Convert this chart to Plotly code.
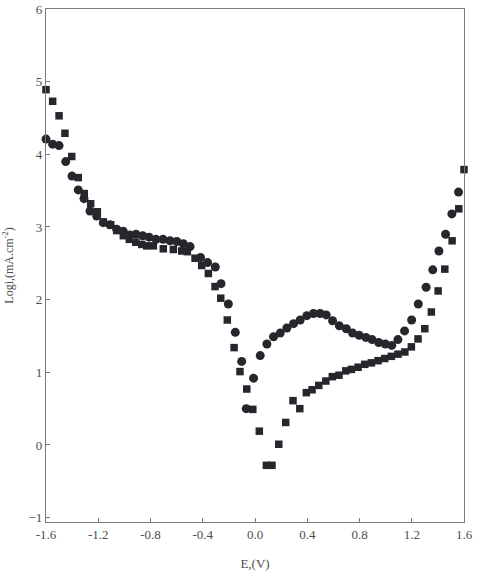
import plotly.graph_objects as go

# Squares series
sq_E = [-1.600, -1.549, -1.500, -1.455, -1.403, -1.353, -1.307, -1.258, -1.207, -1.161,
        -1.105, -1.059, -1.008, -0.962, -0.913, -0.867, -0.829, -0.778, -0.702, -0.625,
        -0.561, -0.518, -0.459, -0.408, -0.357, -0.306, -0.262, -0.212, -0.160, -0.115,
        -0.063, -0.017, 0.033, 0.087, 0.130, 0.182, 0.235, 0.291, 0.343, 0.393,
        0.437, 0.488, 0.542, 0.592, 0.643, 0.695, 0.738, 0.789, 0.840, 0.891,
        0.942, 0.993, 1.044, 1.095, 1.147, 1.197, 1.248, 1.300, 1.350, 1.402,
        1.453, 1.509, 1.560, 1.600]
sq_logi = [4.89, 4.73, 4.53, 4.29, 3.97, 3.68, 3.46, 3.32, 3.21, 3.07,
           3.03, 2.95, 2.88, 2.83, 2.79, 2.76, 2.74, 2.74, 2.70, 2.69,
           2.67, 2.66, 2.57, 2.47, 2.36, 2.18, 2.02, 1.72, 1.34, 1.01,
           0.77, 0.49, 0.19, -0.28, -0.28, 0.01, 0.31, 0.61, 0.50, 0.72,
           0.76, 0.82, 0.88, 0.94, 0.96, 1.02, 1.04, 1.07, 1.11, 1.13,
           1.16, 1.19, 1.22, 1.25, 1.28, 1.35, 1.46, 1.60, 1.83, 2.12,
           2.42, 2.81, 3.25, 3.79]

# Circles series
ci_E = [-1.600, -1.549, -1.500, -1.449, -1.401, -1.353, -1.309, -1.263, -1.212, -1.161,
        -1.110, -1.059, -1.008, -0.957, -0.911, -0.860, -0.811, -0.758, -0.704, -0.651,
        -0.599, -0.549, -0.497, -0.417, -0.363, -0.304, -0.260, -0.204, -0.151, -0.102,
        -0.067, -0.011, 0.040, 0.091, 0.142, 0.193, 0.244, 0.295, 0.346, 0.397,
        0.448, 0.498, 0.545, 0.594, 0.646, 0.699, 0.747, 0.797, 0.849, 0.896,
        0.947, 0.998, 1.047, 1.094, 1.145, 1.199, 1.250, 1.310, 1.361, 1.408,
        1.459, 1.507, 1.558]
ci_logi = [4.21, 4.14, 4.12, 3.90, 3.70, 3.51, 3.39, 3.22, 3.15, 3.06,
           3.03, 2.97, 2.94, 2.89, 2.90, 2.88, 2.86, 2.83, 2.83, 2.81,
           2.80, 2.77, 2.73, 2.58, 2.51, 2.45, 2.22, 1.94, 1.55, 1.15,
           0.50, 0.92, 1.23, 1.39, 1.49, 1.54, 1.61, 1.67, 1.72, 1.78,
           1.81, 1.81, 1.79, 1.71, 1.64, 1.60, 1.54, 1.51, 1.48, 1.45,
           1.41, 1.39, 1.37, 1.45, 1.57, 1.72, 1.94, 2.17, 2.41, 2.67,
           2.90, 3.18, 3.48]

x_ticks = [-1.6, -1.2, -0.8, -0.4, 0.0, 0.4, 0.8, 1.2, 1.6]
x_ticktext = ["-1.6", "-1.2", "-0.8", "-0.4", "0.0", "0.4", "0.8", "1.2", "1.6"]
y_ticks = [-1, 0, 1, 2, 3, 4, 5, 6]

mark_color = "#26262c"
axis_color = "#7a7a7a"
text_color = "#4d4d4d"
font_fam = "Liberation Serif"

fig = go.Figure()
fig.add_trace(go.Scatter(x=sq_E, y=sq_logi, mode="markers",
                         marker=dict(symbol="square", size=7.5, color=mark_color),
                         cliponaxis=False, showlegend=False))
fig.add_trace(go.Scatter(x=ci_E, y=ci_logi, mode="markers",
                         marker=dict(symbol="circle", size=9, color=mark_color),
                         cliponaxis=False, showlegend=False))

fig.update_layout(
    width=478, height=579,
    margin=dict(l=46, r=14, t=9, b=57),
    paper_bgcolor="white", plot_bgcolor="white",
    font=dict(family=font_fam, color=text_color, size=13),
    xaxis=dict(range=[-1.6, 1.6], tickvals=x_ticks, ticktext=x_ticktext,
               automargin=False,
               showgrid=False, zeroline=False, showline=True, linecolor=axis_color,
               linewidth=1.2, mirror=True, ticks="inside", ticklen=4, tickcolor=axis_color,
               tickfont=dict(family=font_fam, size=13, color=text_color),
               title=dict(text="E,(V)", font=dict(family=font_fam, size=13, color=text_color),
                          standoff=18)),
    yaxis=dict(range=[-1.06, 6.0], tickvals=y_ticks,
               automargin=False,
               showgrid=False, zeroline=False, showline=True, linecolor=axis_color,
               linewidth=1.2, mirror=True, ticks="inside", ticklen=4, tickcolor=axis_color,
               tickfont=dict(family=font_fam, size=13, color=text_color),
               title=dict(text="Logi,(mA.cm<sup>-2</sup>)",
                          font=dict(family=font_fam, size=12, color=text_color),
                          standoff=12)),
)

fig.write_html("out.html")
